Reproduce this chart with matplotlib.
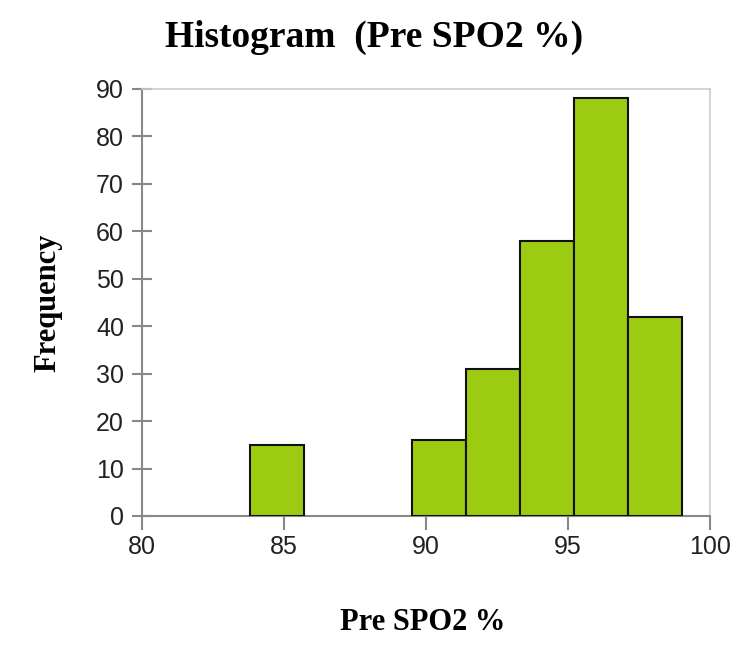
import matplotlib
matplotlib.use('Agg')
import matplotlib.pyplot as plt

# bin edges and counts
bin_edges = [83.8, 85.7, 87.6, 89.5, 91.4, 93.3, 95.2, 97.1, 99.0]
counts = [15, 0, 0, 16, 31, 58, 88, 42]
x_ticks = [80, 85, 90, 95, 100]
y_ticks = [0, 10, 20, 30, 40, 50, 60, 70, 80, 90]

fig = plt.figure(figsize=(7.5, 6.65), dpi=100)
ax = fig.add_axes([0.1893, 0.2241, 0.7574, 0.6421])

lefts = [bin_edges[i] for i in range(len(counts)) if counts[i] > 0]
widths = [bin_edges[i+1] - bin_edges[i] for i in range(len(counts)) if counts[i] > 0]
heights = [c for c in counts if c > 0]
ax.bar(lefts, heights, width=widths, align='edge', color='#9dcb12',
       edgecolor='#111111', linewidth=1.5, zorder=3)

ax.set_xlim(80, 100)
ax.set_ylim(0, 90)
ax.set_xticks(x_ticks)
ax.set_yticks(y_ticks)

for s in ['left', 'bottom']:
    ax.spines[s].set_color('#888888')
    ax.spines[s].set_linewidth(1.5)
for s in ['top', 'right']:
    ax.spines[s].set_color('#cccccc')
    ax.spines[s].set_linewidth(1.2)

ax.tick_params(axis='y', direction='inout', length=14, width=1.5, color='#888888',
               labelsize=18, pad=6)
ax.tick_params(axis='x', direction='out', length=10, width=1.5, color='#888888',
               labelsize=18, pad=4)
for lab in ax.get_xticklabels() + ax.get_yticklabels():
    lab.set_family('Liberation Sans')
    lab.set_color('#222222')

serif = 'Liberation Serif'
fig.text(0.499, 0.943, 'Histogram  (Pre SPO2 %)', ha='center', va='center',
         fontsize=27, fontweight='bold', family=serif)
fig.text(0.564, 0.064, 'Pre SPO2 %', ha='center', va='center',
         fontsize=22, fontweight='bold', family=serif)
fig.text(0.064, 0.545, 'Frequency', ha='center', va='center', rotation=90,
         fontsize=22, fontweight='bold', family=serif)

fig.savefig('out.png', dpi=100)
